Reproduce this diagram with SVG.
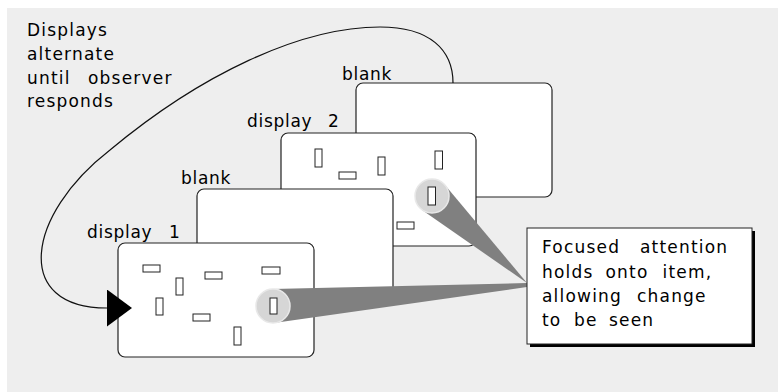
<svg xmlns="http://www.w3.org/2000/svg" width="778" height="392" viewBox="0 0 778 392">
<defs>
<style>
.bg{fill:#eeeeee}
.panel{fill:#ffffff;stroke:#222222;stroke-width:1.2}
.item{fill:#ffffff;stroke:#222222;stroke-width:1}
.cone{fill:#808080}
.lens{fill:#d6d6d6;stroke:#e8e8e8;stroke-width:1.5}
.t{font-family:"DejaVu Sans","Verdana",sans-serif;font-size:17px;fill:#000000;letter-spacing:1.2px}
.lbl{font-family:"DejaVu Sans","Verdana",sans-serif;font-size:17px;fill:#000000;letter-spacing:0.7px}
.conn{fill:none;stroke:#111111;stroke-width:1.2}
</style>
<marker id="arrowhead" markerUnits="userSpaceOnUse" markerWidth="26" markerHeight="38" refX="0" refY="18.5" orient="auto" viewBox="0 0 26 38">
<path d="M0,0 L25,18.5 L0,37 Z" fill="#000000"/>
</marker>
</defs>
<rect class="bg" x="7" y="8" width="771" height="384"/>

<g id="note-alternate">
<text class="t" x="27" y="36">Displays</text>
<text class="t" x="27" y="60">alternate</text>
<text class="t" y="83.5"><tspan x="27">until</tspan> <tspan x="88">observer</tspan></text>
<text class="t" x="27" y="107">responds</text>
</g>

<g id="blank-back">
<rect class="panel" x="356" y="83" width="196" height="114" rx="7"/>
<text class="lbl" x="342" y="80">blank</text>
</g>

<g id="display-2">
<rect class="panel" x="281" y="133" width="195" height="113" rx="7"/>
<text class="lbl" y="127"><tspan x="247">display</tspan> <tspan x="328">2</tspan></text>
<rect class="item" x="315" y="149" width="7" height="18"/>
<rect class="item" x="339" y="172" width="17" height="7"/>
<rect class="item" x="378" y="157" width="7" height="18"/>
<rect class="item" x="435" y="151" width="7.5" height="18"/>
<rect class="item" x="397" y="222" width="17" height="7"/>
</g>

<g id="blank-middle">
<rect class="panel" x="197" y="189" width="196" height="114" rx="7"/>
<text class="lbl" x="181" y="184">blank</text>
</g>

<g id="display-1">
<rect class="panel" x="118" y="243" width="196" height="114" rx="7"/>
<text class="lbl" y="238"><tspan x="87">display</tspan> <tspan x="169">1</tspan></text>
<rect class="item" x="143" y="265" width="17" height="7"/>
<rect class="item" x="176" y="278" width="7" height="17"/>
<rect class="item" x="205" y="272" width="17" height="7"/>
<rect class="item" x="262" y="267" width="18" height="7"/>
<rect class="item" x="156" y="298" width="7" height="17"/>
<rect class="item" x="193" y="314" width="17" height="7"/>
<rect class="item" x="234" y="327" width="7" height="18"/>
</g>

<g id="connectors">
<path class="conn" d="M453,83 C453,50 430,27 380,27 C300,27 200,75 110,150 C26,215 12,308 107,308" marker-end="url(#arrowhead)"/>
</g>

<g id="focus-cone-2">
<polygon class="cone" points="527,283 445,185 422,210"/>
<circle class="lens" cx="432" cy="196" r="17"/>
<rect class="item" x="428" y="187" width="7.5" height="18"/>
</g>

<g id="focus-cone-1">
<polygon class="cone" points="527,283 527,287 275.5,322.8 272.7,289"/>
<circle class="lens" cx="273" cy="306" r="17"/>
<rect class="item" x="270" y="298" width="7" height="16"/>
</g>

<g id="callout">
<rect x="530" y="231" width="225" height="116" fill="#000000"/>
<rect x="527" y="228" width="225" height="116" fill="#ffffff" stroke="#222222" stroke-width="1"/>
<text class="t" y="253"><tspan x="542">Focused</tspan> <tspan x="640">attention</tspan></text>
<text class="t" y="277.5"><tspan x="542">holds</tspan> <tspan x="605.5">onto</tspan> <tspan x="662.5">item,</tspan></text>
<text class="t" y="301.5"><tspan x="542">allowing</tspan> <tspan x="637">change</tspan></text>
<text class="t" y="326"><tspan x="542">to</tspan> <tspan x="574">be</tspan> <tspan x="609">seen</tspan></text>
</g>
</svg>
